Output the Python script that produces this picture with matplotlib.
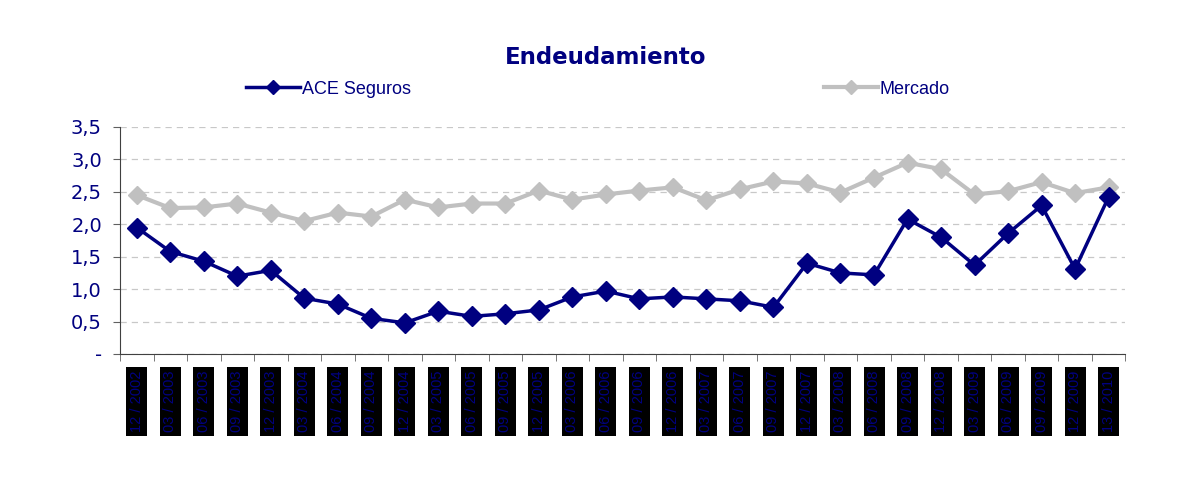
import matplotlib
matplotlib.use('Agg')
import matplotlib.pyplot as plt
import numpy as np

plt.rcParams['font.family'] = ['Liberation Sans', 'DejaVu Sans']

periods = ['12 / 2002', '03 / 2003', '06 / 2003', '09 / 2003', '12 / 2003',
           '03 / 2004', '06 / 2004', '09 / 2004', '12 / 2004', '03 / 2005',
           '06 / 2005', '09 / 2005', '12 / 2005', '03 / 2006', '06 / 2006',
           '09 / 2006', '12 / 2006', '03 / 2007', '06 / 2007', '09 / 2007',
           '12 / 2007', '03 / 2008', '06 / 2008', '09 / 2008', '12 / 2008',
           '03 / 2009', '06 / 2009', '09 / 2009', '12 / 2009', '13 / 2010']
ace = [1.95, 1.58, 1.43, 1.20, 1.29, 0.86, 0.77, 0.55, 0.48, 0.66,
       0.58, 0.62, 0.68, 0.88, 0.97, 0.85, 0.88, 0.85, 0.82, 0.72,
       1.40, 1.25, 1.22, 2.08, 1.80, 1.37, 1.86, 2.29, 1.31, 2.42]
mercado = [2.45, 2.25, 2.26, 2.32, 2.18, 2.05, 2.18, 2.12, 2.38, 2.26,
           2.32, 2.32, 2.52, 2.38, 2.46, 2.52, 2.57, 2.37, 2.54, 2.66,
           2.63, 2.49, 2.72, 2.95, 2.85, 2.46, 2.51, 2.65, 2.48, 2.57]
yticks = [0, 0.5, 1.0, 1.5, 2.0, 2.5, 3.0, 3.5]
ytick_labels = ['-', '0,5', '1,0', '1,5', '2,0', '2,5', '3,0', '3,5']

navy = '#000080'
grey = '#C0C0C0'

fig = plt.figure(figsize=(11.94, 5.0), dpi=100)
ax = fig.add_axes([0.1005, 0.292, 0.842, 0.454])

x = np.arange(len(periods))
l2, = ax.plot(x, mercado, color=grey, lw=3, marker='D', markersize=9, label='Mercado')
l1, = ax.plot(x, ace, color=navy, lw=2.5, marker='D', markersize=10, label='ACE Seguros')

ax.set_xlim(-0.5, len(periods) - 0.5)
ax.set_ylim(0, 3.5)
ax.set_yticks(yticks)
ax.set_yticklabels(ytick_labels, color=navy, fontsize=14, family='DejaVu Sans')
ax.yaxis.grid(True, color='#C8C8C8', linestyle=(0, (5, 4)), lw=0.9)
ax.set_axisbelow(True)

ax.set_xticks(x)
ax.set_xticklabels(periods, rotation=90, color=navy, fontsize=10.5,
                   va='top', ha='center')
for t in ax.get_xticklabels():
    t.set_bbox(dict(facecolor='black', edgecolor='none', pad=2.5))
ax.tick_params(axis='x', which='major', length=0, pad=12)
ax.set_xticks(np.arange(-0.5, len(periods)), minor=True)
ax.tick_params(axis='x', which='minor', length=5, color='#606060')
ax.tick_params(axis='y', length=5, color='#606060', pad=8)

for s in ['top', 'right']:
    ax.spines[s].set_visible(False)
ax.spines['left'].set_color('#404040')
ax.spines['bottom'].set_color('#404040')

fig.text(0.507, 0.885, 'Endeudamiento', ha='center', va='center',
         fontsize=16.5, fontweight='bold', color=navy, family='DejaVu Sans')

leg_font = {'family': 'Liberation Sans', 'size': 13}
fig.legend(handles=[l1], loc='center left', bbox_to_anchor=(0.206, 0.822),
           frameon=False, prop=leg_font, handlelength=3.0, handletextpad=0.1,
           labelcolor=navy, markerscale=0.75, borderpad=0, borderaxespad=0)
fig.legend(handles=[l2], loc='center left', bbox_to_anchor=(0.690, 0.822),
           frameon=False, prop=leg_font, handlelength=3.0, handletextpad=0.1,
           labelcolor=navy, markerscale=0.75, borderpad=0, borderaxespad=0)

fig.savefig('out.png', dpi=100)
